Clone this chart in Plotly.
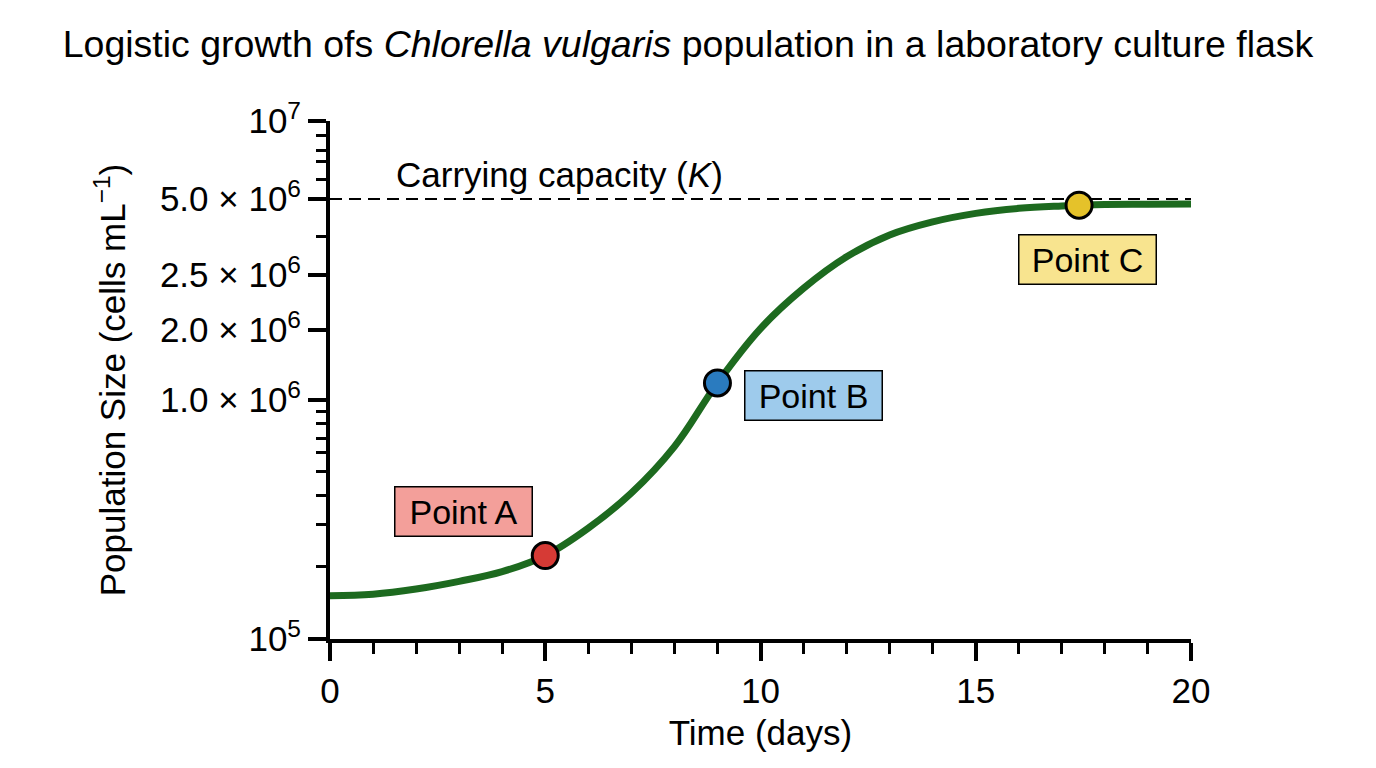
import math
import plotly.graph_objects as go

# values
days = list(range(0, 21))
cells = [1.47e5, 1.49e5, 1.56e5, 1.67e5, 1.82e5, 2.10e5, 2.68e5, 3.66e5, 5.53e5, 9.74e5,
         1.58e6, 2.26e6, 2.99e6, 3.63e6, 4.08e6, 4.40e6, 4.60e6, 4.70e6, 4.76e6, 4.77e6, 4.78e6]

carrying_capacity = 5.0e6

point_names = ["Point A", "Point B", "Point C"]
point_days = [5, 9, 17.4]
point_cells = [2.10e5, 9.74e5, 4.73e6]
point_colors = ["#d63a35", "#2a7bbf", "#e5c22a"]
box_colors = ["#f39f9a", "#9ecbec", "#f8e48f"]

y_ticktext = ["10<sup>5</sup>", "1.0 × 10<sup>6</sup>", "2.0 × 10<sup>6</sup>",
              "2.5 × 10<sup>6</sup>", "5.0 × 10<sup>6</sup>", "10<sup>7</sup>"]

# the reference's y ticks are not spaced like a true log scale, so the marks are
# put where the reference draws them (on a log axis running 1e5 .. 1e7)
y_tick_pos = [1e5, 8.37e5, 1.56e6, 2.54e6, 5.0e6, 1e7]
y_minor_pos = [1.905e5, 2.76e5, 3.58e5, 4.43e5, 5.23e5, 5.97e5, 6.77e5, 7.55e5,
               3.57e6, 5.96e6, 6.95e6, 7.71e6, 8.81e6]

# label box anchors (days, cells)
label_days = [3.10, 11.22, 17.60]
label_cells = [3.12e5, 8.68e5, 2.92e6]
k_label_day = 5.33
k_label_cells = 6.23e6

FONT = "Liberation Sans, Arial, sans-serif"

fig = go.Figure()

fig.add_trace(go.Scatter(
    x=days, y=cells, mode="lines", line_shape="spline",
    line=dict(color="#1d6a1f", width=7, smoothing=1.1), hoverinfo="skip", showlegend=False))

fig.add_trace(go.Scatter(
    x=[0, 20], y=[carrying_capacity, carrying_capacity], mode="lines",
    line=dict(color="black", width=2, dash="12px,7px"), showlegend=False))

fig.add_trace(go.Scatter(
    x=point_days, y=point_cells, mode="markers",
    marker=dict(size=26, color=point_colors, line=dict(color="black", width=3)),
    showlegend=False))

for name, lx, ly, bc in zip(point_names, label_days, label_cells, box_colors):
    fig.add_annotation(x=lx, y=math.log10(ly), text=name, showarrow=False,
                       font=dict(family=FONT, size=34, color="black"),
                       bgcolor=bc, bordercolor="black", borderwidth=1.5,
                       borderpad=5, width=126, height=38)

fig.add_annotation(x=k_label_day, y=math.log10(k_label_cells),
                   text="Carrying capacity (<i>K</i>)", showarrow=False,
                   font=dict(family=FONT, size=35, color="black"))

fig.update_layout(
    width=1360, height=752,
    margin=dict(l=322, r=177, t=113, b=121),
    paper_bgcolor="white", plot_bgcolor="white",
    font=dict(family=FONT, size=35, color="black"),
    title=dict(text="Logistic growth ofs <i>Chlorella vulgaris</i> population in a laboratory culture flask",
               x=0.5, xref="container", y=0.952, yref="container", yanchor="middle",
               font=dict(family=FONT, size=37.5, color="black")),
)

fig.update_xaxes(
    range=[0, 20], tickvals=[0, 5, 10, 15, 20], showgrid=False, zeroline=False,
    showline=True, linecolor="black", linewidth=4,
    ticks="outside", ticklen=18, tickwidth=4, tickcolor="black",
    minor=dict(dtick=1, ticks="outside", ticklen=11, tickwidth=3, tickcolor="black"),
    tickfont=dict(family=FONT, size=35),
    title=dict(text="Time (days)", font=dict(family=FONT, size=35), standoff=12),
)

fig.update_yaxes(
    type="log", range=[5, 7], tickvals=y_tick_pos, ticktext=y_ticktext,
    showgrid=False, zeroline=False,
    showline=True, linecolor="black", linewidth=4,
    ticks="outside", ticklen=18, tickwidth=4, tickcolor="black",
    minor=dict(tickvals=y_minor_pos, ticks="outside", ticklen=10, tickwidth=3, tickcolor="black"),
    tickfont=dict(family=FONT, size=35),
    title=dict(text="Population Size (cells mL<sup>−1</sup>)", font=dict(family=FONT, size=35), standoff=25),
)

fig.write_html("out.html")
